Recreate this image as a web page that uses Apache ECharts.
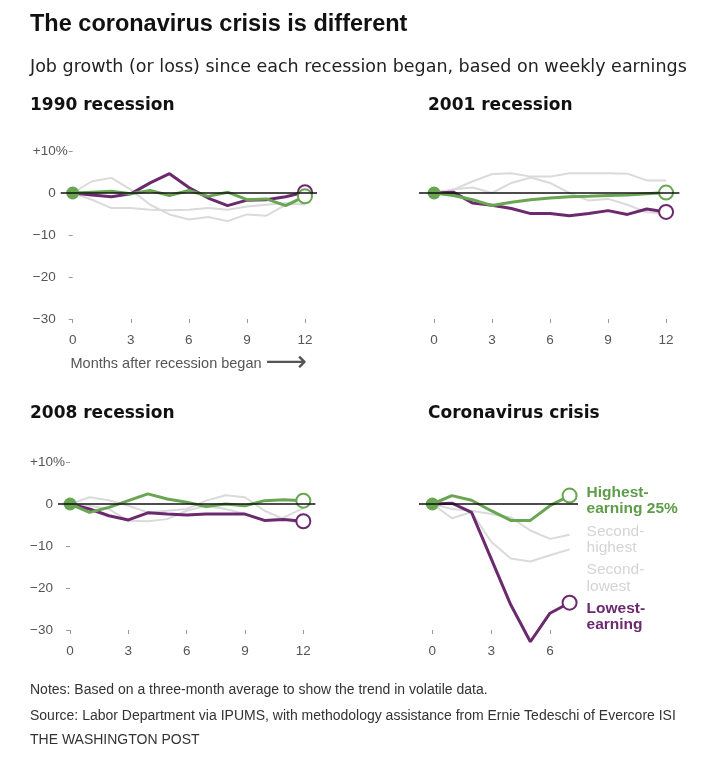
<!DOCTYPE html>
<html><head><meta charset="utf-8">
<script src="https://cdn.jsdelivr.net/npm/echarts@6/dist/echarts.min.js"></script>
<style>html,body{margin:0;padding:0;background:#fff}#c{width:727px;height:768px}</style>
</head><body><div id="c"></div>
<script>
// ---------- data ----------
const months12 = [0,1,2,3,4,5,6,7,8,9,10,11,12];
const monthsCovid = [0,1,2,3,4,5,6,7];
const xTicks12 = [0,3,6,9,12];
const xTicksCovid = [0,3,6];
const yTicks = [10,0,-10,-20,-30];

const panelTitles = ['1990 recession','2001 recession','2008 recession','Coronavirus crisis'];
const groupLabels = ['Highest-\nearning 25%','Second-\nhighest','Second-\nlowest','Lowest-\nearning'];

const r1990Highest   = [0, 0.2, 0.4, -0.2, 0.6, -0.6, 0.6, -0.8, 0.2, -1.6, -1.4, -3.0, -0.8];
const r1990SecondHi  = [0, 2.8, 3.6, 0.8, -2.8, -5.1, -6.3, -5.7, -6.7, -5.1, -5.4, -2.8, -2.4];
const r1990SecondLo  = [0, -1.6, -3.6, -3.6, -4.0, -4.1, -4.0, -3.6, -4.0, -3.2, -2.8, -2.4, -2.8];
const r1990Lowest    = [0, -0.5, -0.9, -0.2, 2.4, 4.6, 1.3, -1.2, -3.0, -1.7, -1.6, -0.9, 0.2];

const r2001Highest   = [0, -0.6, -1.6, -3.0, -2.2, -1.6, -1.2, -0.9, -0.8, -0.6, -0.5, -0.2, 0.1];
const r2001SecondHi  = [0, 0.8, 2.8, 4.5, 4.7, 3.9, 3.9, 4.7, 4.7, 4.7, 4.6, 3.0, 3.0];
const r2001SecondLo  = [0, 0.9, 1.3, 0.0, 2.4, 3.7, 2.4, 0.0, -1.8, -1.4, -2.8, -4.6, -4.9];
const r2001Lowest    = [0, 0.2, -2.4, -2.9, -3.7, -4.9, -4.9, -5.4, -4.9, -4.2, -5.1, -3.8, -4.5];

const r2008Highest   = [0, -2.0, -0.8, 0.8, 2.4, 1.2, 0.4, -0.6, 0.0, -0.4, 0.8, 1.0, 0.8];
const r2008SecondHi  = [0, 1.6, 0.9, -0.4, -2.0, -1.6, -1.2, 0.8, 2.1, 1.6, -1.6, -3.6, -4.9];
const r2008SecondLo  = [0, -0.4, -1.2, -4.0, -4.1, -3.6, -1.6, -0.4, -1.2, -2.4, -4.0, -3.2, -1.0];
const r2008Lowest    = [0, -1.2, -2.8, -3.8, -2.1, -2.4, -2.6, -2.4, -2.4, -2.4, -3.9, -3.7, -4.1];

const covidHighest   = [0, 2.0, 0.9, -1.6, -3.9, -3.9, -0.4, 2.0];
const covidSecondHi  = [0, -1.2, -1.6, -2.4, -3.2, -6.3, -8.3, -7.3];
const covidSecondLo  = [0, -3.4, -1.9, -9.0, -13.0, -13.7, -12.2, -10.8];
const covidLowest    = [0, 0.2, -2.0, -13.0, -24.0, -32.8, -26.0, -23.5];

// ---------- layout / style ----------
const FONT = "'Liberation Sans', Arial, sans-serif";
const C = { green:'#69a653', purple:'#6b2a6e', gray:'#dadada', tick:'#9a9a9a', label:'#555' };

const grids = [
  { left:60.7, top:151, width:256.3, height:168 },
  { left:419,  top:151, width:260.4, height:168 },
  { left:58,   top:462, width:257.4, height:168 },
  { left:419,  top:462, width:159,   height:168 }
];
const xRanges = [[-0.62,12.62],[-0.78,12.69],[-0.62,12.62],[-0.68,7.43]];
const xTickSets = [xTicks12, xTicks12, xTicks12, xTicksCovid];
const xData = [months12, months12, months12, monthsCovid];

const panels = [
  [r1990SecondHi, r1990SecondLo, r1990Lowest, r1990Highest],
  [r2001SecondHi, r2001SecondLo, r2001Lowest, r2001Highest],
  [r2008SecondHi, r2008SecondLo, r2008Lowest, r2008Highest],
  [covidSecondHi, covidSecondLo, covidLowest, covidHighest]
];
const kinds = ['gray','gray','purple','green'];
const labelIdx = [1, 2, 3, 0];

const endLabelStyle = [
  { color:'#d4d4d4', fontWeight:'normal', dy:5 },
  { color:'#d4d4d4', fontWeight:'normal', dy:29 },
  { color:C.purple,  fontWeight:'bold',   dy:14 },
  { color:'#5f9c4a', fontWeight:'bold',   dy:5 }
];

function makeSeries(p, k) {
  const xs = xData[p], ys = panels[p][k], kind = kinds[k];
  const color = kind === 'gray' ? C.gray : C[kind];
  const s = {
    type:'line', xAxisIndex:p, yAxisIndex:p,
    z: kind === 'gray' ? 2 : (kind === 'purple' ? 3 : 4),
    symbol:'emptyCircle', symbolSize:14,
    lineStyle:{ color, width: kind === 'gray' ? 2 : 3 },
    itemStyle:{ color, borderColor:color, borderWidth:2.5 },
    emphasis:{ disabled:true },
    silent:true, clip:false,
    data: xs.map((m, i) => {
      const it = { value:[m, ys[i]] };
      const last = i === xs.length - 1;
      if (last && kind !== 'gray') { it.symbol = 'emptyCircle'; }
      else if (i === 0 && kind === 'green') {
        it.symbol = 'circle'; it.symbolSize = 13;
        it.itemStyle = { color:C.green, borderWidth:0 };
      } else { it.symbol = 'none'; }
      return it;
    })
  };
  if (k === 0) {
    s.markLine = {
      silent:true, symbol:['none','none'], label:{show:false},
      lineStyle:{ color:'#111', width:1.5, type:'solid' },
      data:[{ yAxis:0 }], animation:false
    };
  }
  if (p === 3) {
    const st = endLabelStyle[k];
    s.endLabel = {
      show:true, formatter: groupLabels[labelIdx[k]], distance:17, offset:[0, st.dy],
      color:st.color, fontWeight:st.fontWeight, fontSize:15.5, lineHeight:16.5,
      fontFamily:FONT, align:'left', verticalAlign:'middle'
    };
  }
  return s;
}

const series = [];
for (let p = 0; p < 4; p++) for (let k = 0; k < 4; k++) series.push(makeSeries(p, k));

const fmtY = v => v === 10 ? '+10%' : (v === 0 ? '0' : '\u2212' + Math.abs(v)) + '{p|\u00a0}';

const titleStyle = (size, weight, color, family, lh) =>
  ({ fontSize:size, fontWeight:weight, color, fontFamily:family, lineHeight:lh });
const PANEL_FONT = "'DejaVu Sans', sans-serif";

const option = {
  animation:false,
  backgroundColor:'#fff',
  title: [
    { text:'The coronavirus crisis is different', left:30, top:11, padding:0,
      textStyle:titleStyle(23.5, 'bold', '#111', FONT, 28) },
    { text:'Job growth (or loss) since each recession began, based on weekly earnings', left:30, top:57, padding:0,
      textStyle:titleStyle(17.5, 'normal', '#222', PANEL_FONT, 20) },
    { text:panelTitles[0], left:30, top:96, padding:0, textStyle:titleStyle(17, 'bold', '#111', PANEL_FONT, 20) },
    { text:panelTitles[1], left:428, top:96, padding:0, textStyle:titleStyle(17, 'bold', '#111', PANEL_FONT, 20) },
    { text:panelTitles[2], left:30, top:404, padding:0, textStyle:titleStyle(17, 'bold', '#111', PANEL_FONT, 20) },
    { text:panelTitles[3], left:428, top:404, padding:0, textStyle:titleStyle(17, 'bold', '#111', PANEL_FONT, 20) },
    { text:'Notes: Based on a three-month average to show the trend in volatile data.', left:30, top:682, padding:0,
      textStyle:titleStyle(14, 'normal', '#333', FONT, 16) },
    { text:'Source: Labor Department via IPUMS, with methodology assistance from Ernie Tedeschi of Evercore ISI', left:30, top:708, padding:0,
      textStyle:titleStyle(14, 'normal', '#333', FONT, 16) },
    { text:'THE WASHINGTON POST', left:30, top:732, padding:0,
      textStyle:titleStyle(14, 'normal', '#333', FONT, 16) }
  ],
  grid: grids,
  xAxis: grids.map((g, i) => ({
    gridIndex:i, type:'value', min:xRanges[i][0], max:xRanges[i][1],
    axisLine:{ show:false, onZero:false },
    splitLine:{ show:false },
    axisTick:{ show:true, length:4, customValues:xTickSets[i], lineStyle:{ color:C.tick } },
    axisLabel:{ customValues:xTickSets[i], color:C.label, fontSize:13.5, margin:14, fontFamily:FONT },
    name: i === 0 ? 'Months after recession began {a|\u27F6}' : '',
    nameLocation:'middle', nameGap:30, nameMoveOverlap:false,
    nameTextStyle:{ color:C.label, fontSize:14.5, fontFamily:FONT,
      rich:{ a:{ fontSize:29, color:'#555', fontFamily:'DejaVu Sans', verticalAlign:'middle' } } }
  })),
  yAxis: grids.map((g, i) => ({
    gridIndex:i, type:'value', min:-30, max:10, interval:10,
    show: i === 0 || i === 2,
    axisLine:{ show:false, onZero:true },
    splitLine:{ show:false },
    axisTick:{ show:true, length:4, lineStyle:{ color:C.tick } },
    axisLabel:{ formatter:fmtY, color:C.label, fontSize:13.5, margin:-7, fontFamily:FONT,
      rich:{ p:{ width:12, fontSize:13.5 } } }
  })),
  series
};

const chart = echarts.init(document.getElementById('c'), null, { renderer:'canvas' });
chart.setOption(option);
</script>
</body></html>
